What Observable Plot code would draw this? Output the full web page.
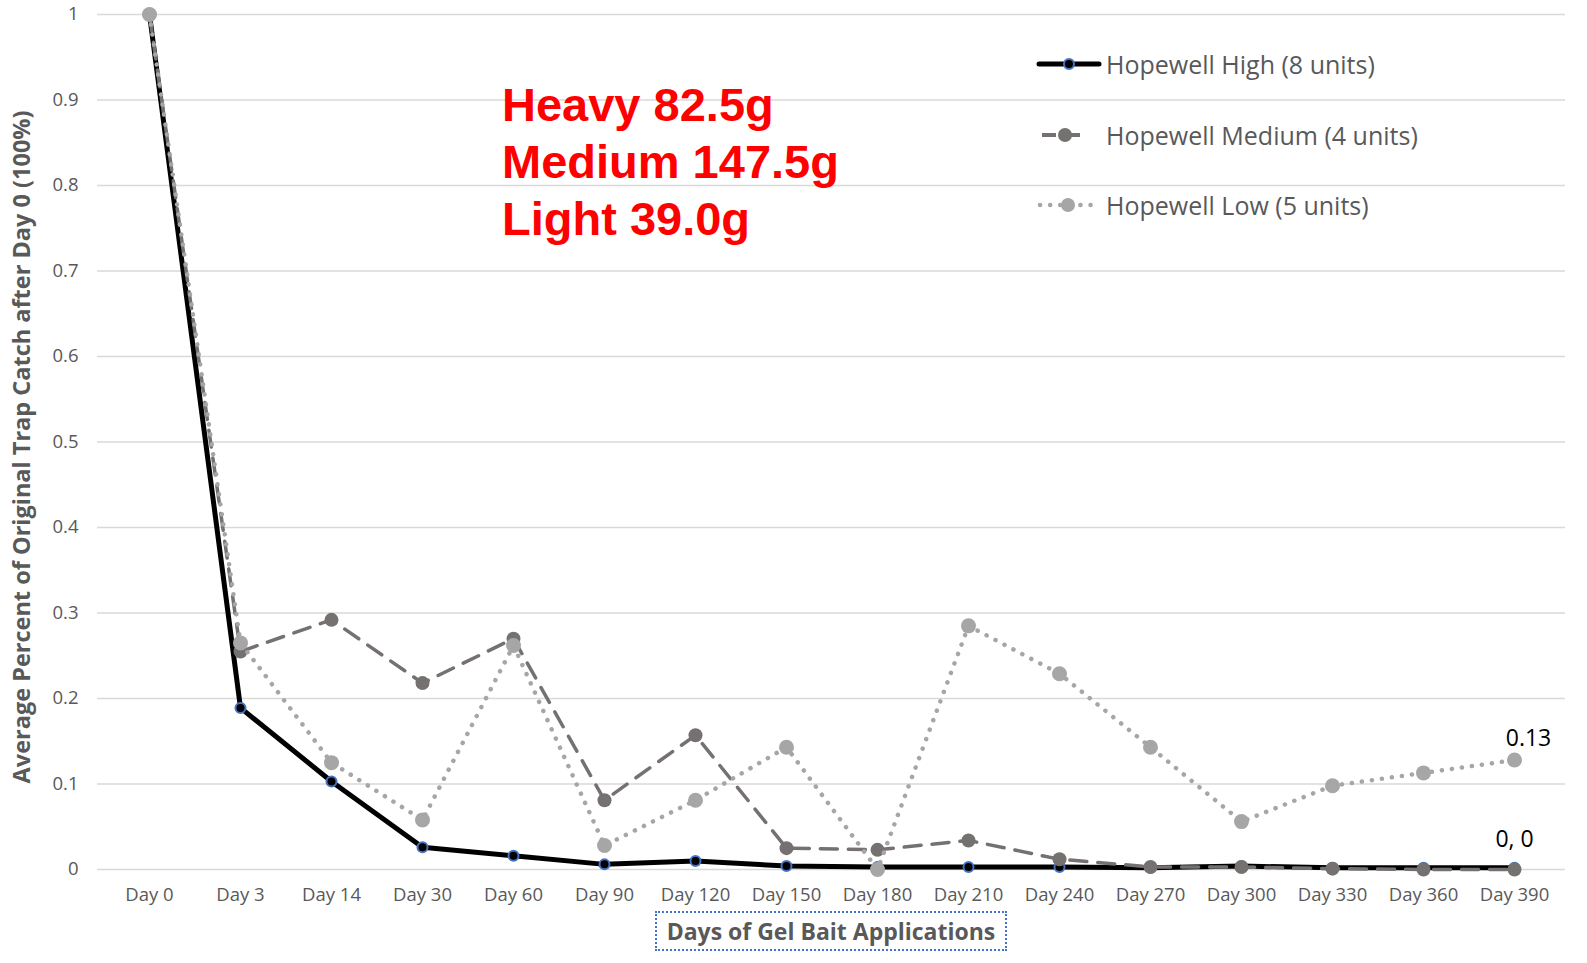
<!DOCTYPE html>
<html>
<head>
<meta charset="utf-8">
<script src="https://cdn.jsdelivr.net/npm/d3@7"></script>
<script src="https://cdn.jsdelivr.net/npm/@observablehq/plot@0.6"></script>
<style>
  html, body { margin: 0; padding: 0; background: #fff; overflow: hidden; width: 1587px; height: 963px; }
  #wrap { position: relative; width: 1587px; height: 963px; overflow: hidden; font-family: "Open Sans", sans-serif; }
  #chart svg { display: block; max-width: none; }
  .red { position: absolute; left: 502px; top: 76px; font-family: "Liberation Sans", Arial, sans-serif; font-weight: bold; color: #ff0000; font-size: 47px; line-height: 57px; }
  .legend { position: absolute; left: 1036px; top: 44px; font-size: 25px; color: #595959; }
  .legend .row { display: flex; align-items: center; height: 40px; margin-bottom: 30.5px; white-space: nowrap; }
  .legend svg { margin-right: 4px; }
  .xtitle { position: absolute; left: 655px; top: 911px; width: 348px; height: 36px; border: 2px dotted #4472C4; text-align: center; font-weight: bold; font-size: 23px; line-height: 36px; color: #595959; white-space: nowrap; }
</style>
</head>
<body>
<div id="wrap">
  <div id="chart"></div>
  <div class="red">Heavy 82.5g<br>Medium 147.5g<br>Light 39.0g</div>
  <div class="legend" id="legend"></div>
  <div class="xtitle">Days of Gel Bait Applications</div>
</div>
<script>
const days = ["Day 0","Day 3","Day 14","Day 30","Day 60","Day 90","Day 120","Day 150","Day 180","Day 210","Day 240","Day 270","Day 300","Day 330","Day 360","Day 390"];
const seriesNames = ["Hopewell High (8 units)", "Hopewell Medium (4 units)", "Hopewell Low (5 units)"];
const high   = [1.0, 0.189, 0.103, 0.026, 0.016, 0.006, 0.010, 0.004, 0.003, 0.003, 0.003, 0.002, 0.004, 0.002, 0.002, 0.002];
const medium = [1.0, 0.255, 0.292, 0.218, 0.270, 0.081, 0.157, 0.025, 0.023, 0.034, 0.012, 0.003, 0.003, 0.001, 0.000, 0.000];
const low    = [1.0, 0.265, 0.125, 0.058, 0.262, 0.028, 0.081, 0.143, 0.000, 0.285, 0.229, 0.143, 0.056, 0.098, 0.113, 0.128];
const yTicks = [0, 0.1, 0.2, 0.3, 0.4, 0.5, 0.6, 0.7, 0.8, 0.9, 1];
const endLabels = ["0.13", "0, 0"];

const toRows = (vals, s) => vals.map((v, i) => ({day: days[i], value: v, series: s}));
const hi = toRows(high, seriesNames[0]);
const me = toRows(medium, seriesNames[1]);
const lo = toRows(low, seriesNames[2]);

const cHigh = "#000000", cMed = "#767171", cLow = "#A6A6A6", cBlue = "#4472C4";
const last = days.length - 1;

const chart = Plot.plot({
  width: 1587,
  height: 910,
  marginLeft: 97,
  marginRight: 22,
  marginTop: 14,
  marginBottom: 41,
  style: {fontFamily: "Open Sans, sans-serif", background: "#fff", maxWidth: "none"},
  x: {type: "point", domain: days, padding: 0.5, label: null},
  y: {domain: [0, 1], label: null},
  marks: [
    Plot.gridY(yTicks, {stroke: "#d9d9d9", strokeOpacity: 1, strokeWidth: 1.6}),
    Plot.axisY(yTicks, {tickSize: 0, tickPadding: 19, fontSize: 18.5, fill: "#595959", tickFormat: d => String(+d.toFixed(1))}),
    Plot.axisX({tickSize: 0, tickPadding: 18, fontSize: 18.5, fill: "#595959"}),
    Plot.text(["Average Percent of Original Trap Catch after Day 0 (100%)"], {frameAnchor: "left", textAnchor: "middle", dx: -75, dy: 5, rotate: -90, fontSize: 23.5, fontWeight: "bold", fill: "#595959"}),
    // High
    Plot.line(hi, {x: "day", y: "value", stroke: cHigh, strokeWidth: 5, strokeLinejoin: "round"}),
    Plot.dot(hi, {x: "day", y: "value", r: 5, fill: cHigh, stroke: cBlue, strokeWidth: 2}),
    // Medium
    Plot.line(me, {x: "day", y: "value", stroke: cMed, strokeWidth: 3.5, strokeDasharray: "17 11"}),
    Plot.dot(me, {x: "day", y: "value", r: 7, fill: cMed, stroke: "none"}),
    // Low
    Plot.line(lo, {x: "day", y: "value", stroke: cLow, strokeWidth: 4.5, strokeDasharray: "0.1 10", strokeLinecap: "round"}),
    Plot.dot(lo, {x: "day", y: "value", r: 7.5, fill: cLow, stroke: "none"}),
    // end labels
    Plot.text([{day: days[last], value: low[last], label: endLabels[0]}], {x: "day", y: "value", text: "label", dx: 14, dy: -21, fontSize: 23, fill: "#000"}),
    Plot.text([{day: days[last], value: medium[last], label: endLabels[1]}], {x: "day", y: "value", text: "label", dx: 0, dy: -30, fontSize: 23, fill: "#000"})
  ]
});
document.getElementById("chart").append(chart);

// Legend
const legend = document.getElementById("legend");
const swatches = [
  `<svg width="66" height="20"><line x1="3" y1="10" x2="63" y2="10" stroke="${cHigh}" stroke-width="5" stroke-linecap="round"/><circle cx="33" cy="10" r="5" fill="${cHigh}" stroke="${cBlue}" stroke-width="2"/></svg>`,
  `<svg width="66" height="20"><line x1="6" y1="10" x2="20" y2="10" stroke="${cMed}" stroke-width="4"/><line x1="30" y1="10" x2="44" y2="10" stroke="${cMed}" stroke-width="4"/><circle cx="29" cy="10" r="7" fill="${cMed}"/></svg>`,
  `<svg width="66" height="20"><line x1="4" y1="10" x2="64" y2="10" stroke="${cLow}" stroke-width="4.5" stroke-dasharray="0.1 10" stroke-linecap="round"/><circle cx="32" cy="10" r="7" fill="${cLow}"/></svg>`
];
seriesNames.forEach((n, i) => {
  const row = document.createElement("div");
  row.className = "row";
  row.innerHTML = swatches[i] + `<span>${n}</span>`;
  legend.append(row);
});
</script>
</body>
</html>
